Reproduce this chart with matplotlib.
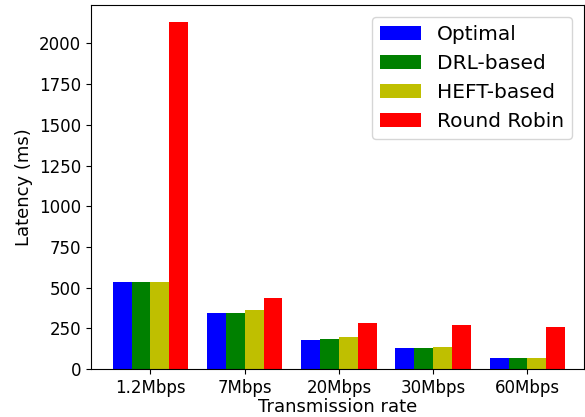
import matplotlib
matplotlib.use("Agg")
import matplotlib.pyplot as plt
import numpy as np

categories = ["1.2Mbps", "7Mbps", "20Mbps", "30Mbps", "60Mbps"]
optimal = [534, 344, 178, 129, 67]
drl = [534, 344, 184, 129, 67]
heft = [534, 362, 196, 135, 67]
round_robin = [2130, 436, 284, 270, 258]
series_names = ["Optimal", "DRL-based", "HEFT-based", "Round Robin"]
colors = ["b", "g", "y", "r"]

fig = plt.figure(figsize=(5.85, 4.17), dpi=100)
ax = fig.add_axes([91/585, (417-369)/417, (584-91)/585, (369-5)/417])
x = np.arange(len(categories))
w = 0.2
for i, (vals, name, c) in enumerate(zip([optimal, drl, heft, round_robin], series_names, colors)):
    ax.bar(x + (i - 1.5) * w, vals, w, color=c, label=name)
ax.set_xticks(x)
ax.set_xticklabels(categories, fontsize=12)
ax.tick_params(axis="y", labelsize=12)
ax.set_xlabel("Transmission rate", fontsize=13, labelpad=1)
ax.set_ylabel("Latency (ms)", fontsize=13)
ax.set_xlim(-0.63, 4.6)
ax.set_yticks(np.arange(0, 2001, 250))
ax.legend(fontsize=14.5, loc="upper right", borderaxespad=0.6)
fig.savefig("out.png", dpi=100)
